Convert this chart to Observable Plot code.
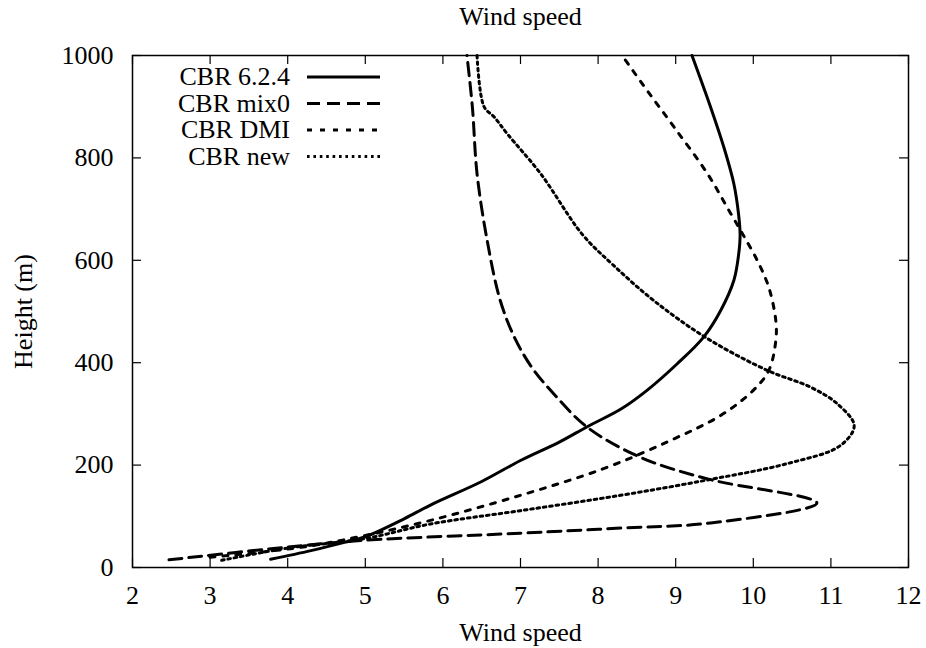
<!DOCTYPE html>
<html>
<head>
<meta charset="utf-8">
<script src="https://cdn.jsdelivr.net/npm/d3@7"></script>
<script src="https://cdn.jsdelivr.net/npm/@observablehq/plot@0.6"></script>
<style>
  html, body { margin: 0; padding: 0; background: #fff; }
  #chart { position: relative; width: 926px; height: 648px; }
</style>
</head>
<body>
<div id="chart"></div>
<script>
// ---- Data ----
const titleText = "Wind speed";
const xLabel = "Wind speed";
const yLabel = "Height (m)";
const xTicks = [2, 3, 4, 5, 6, 7, 8, 9, 10, 11, 12];
const yTicks = [0, 200, 400, 600, 800, 1000];
const seriesNames = ["CBR 6.2.4", "CBR mix0", "CBR DMI", "CBR new"];

const speed624 = [3.78, 4.3, 4.73, 5.0, 5.5, 5.84, 6.5, 7.0, 7.5, 7.86, 8.3, 8.63, 9.02, 9.36, 9.58, 9.75, 9.81, 9.83, 9.81, 9.75, 9.62, 9.45, 9.21];
const height624 = [16, 33, 49, 60, 95, 122, 168, 209, 245, 275, 310, 346, 398, 450, 502, 561, 610, 650, 690, 749, 821, 899, 1000];

const speedMix0 = [2.47, 4.0, 4.98, 7.0, 8.29, 9.45, 10.82, 9.41, 8.55, 7.86, 7.43, 7.15, 6.93, 6.74, 6.57, 6.44, 6.38, 6.31];
const heightMix0 = [15, 40, 53, 67, 77, 87, 126, 173, 215, 274, 339, 390, 447, 521, 639, 769, 899, 1000];

const speedDMI = [3.0, 4.2, 4.98, 5.84, 7.0, 8.07, 8.93, 9.58, 10.0, 10.2, 10.29, 10.29, 10.2, 10.05, 9.86, 9.71, 9.41, 8.98, 8.63, 8.31];
const heightDMI = [20, 40, 62, 92, 141, 193, 248, 297, 346, 385, 443, 482, 547, 600, 652, 691, 769, 860, 932, 1000];

const speedNew = [3.15, 4.0, 4.98, 5.84, 7.0, 8.29, 9.41, 10.44, 11.12, 11.30, 11.08, 10.74, 10.18, 9.4, 8.72, 8.2, 7.8, 7.26, 6.83, 6.66, 6.53, 6.44];
const heightNew = [14, 38, 56, 85, 111, 141, 171, 203, 238, 277, 320, 352, 385, 448, 521, 590, 650, 769, 847, 880, 900, 1000];

// ---- Build table ----
const toRows = (sp, h) => sp.map((s, i) => ({speed: s, height: h[i]}));
const rows624 = toRows(speed624, height624);
const rowsMix0 = toRows(speedMix0, heightMix0);
const rowsDMI = toRows(speedDMI, heightDMI);
const rowsNew = toRows(speedNew, heightNew);

// ---- Styles ----
const W = 926, H = 648;
const mL = 132, mR = 18, mT = 55, mB = 81;
const frameW = W - mL - mR, frameH = H - mT - mB;
const tickLen = 9;
const lw = 3;
const fs = 26;
const dashes = [null, "13,7", "5,8", "2.6,3.8"];
const font = "'Liberation Serif', 'Times New Roman', Times, serif";

const lineStyle = (i) => ({
  x: "speed", y: "height",
  stroke: "black", strokeWidth: lw,
  strokeDasharray: dashes[i] || undefined,
  strokeLinejoin: "round", curve: "catmull-rom"
});

const chart = Plot.plot({
  width: W, height: H,
  marginLeft: mL, marginRight: mR, marginTop: mT, marginBottom: mB,
  style: {fontFamily: font, fontSize: fs + "px", color: "black", background: "white", overflow: "visible"},
  x: {domain: [2, 12]},
  y: {domain: [0, 1000]},
  marks: [
    Plot.axisX({ticks: xTicks, anchor: "bottom", tickSize: 0, tickPadding: 18, label: null, tickFormat: d => String(d)}),
    Plot.axisY({ticks: yTicks, anchor: "left", tickSize: 0, tickPadding: 19, label: null, tickFormat: d => String(d)}),
    // inward ticks on all four sides (mirrored)
    Plot.tickX(xTicks, {x: d => d, insetTop: frameH - tickLen, stroke: "black", strokeWidth: 1.2}),
    Plot.tickX(xTicks, {x: d => d, insetBottom: frameH - tickLen, stroke: "black", strokeWidth: 1.2}),
    Plot.tickY(yTicks, {y: d => d, insetRight: frameW - tickLen, stroke: "black", strokeWidth: 1.2}),
    Plot.tickY(yTicks, {y: d => d, insetLeft: frameW - tickLen, stroke: "black", strokeWidth: 1.2}),
    Plot.line(rows624, lineStyle(0)),
    Plot.line(rowsMix0, lineStyle(1)),
    Plot.line(rowsDMI, lineStyle(2)),
    Plot.line(rowsNew, lineStyle(3)),
    Plot.frame({stroke: "black", strokeWidth: 1.5}),
    Plot.text([titleText], {text: d => d, frameAnchor: "top", dy: -39, lineAnchor: "middle", textAnchor: "middle", fontSize: fs}),
    Plot.text([xLabel], {text: d => d, frameAnchor: "bottom", dy: 65, lineAnchor: "middle", textAnchor: "middle", fontSize: fs}),
    Plot.text([yLabel], {text: d => d, frameAnchor: "left", dx: -109, rotate: -90, lineAnchor: "middle", textAnchor: "middle", fontSize: fs})
  ]
});

document.getElementById("chart").appendChild(chart);

// ---- Legend (key, top-left inside the frame, gnuplot style) ----
const svg = d3.select(chart);
const key = svg.append("g").attr("class", "key");
const keyTextRight = 290, keySampleX1 = 307, keySampleX2 = 380, keyBase = 85, keyStep = 26.5;
seriesNames.forEach((name, i) => {
  const baseY = keyBase + i * keyStep;
  key.append("text")
    .attr("x", keyTextRight).attr("y", baseY)
    .attr("text-anchor", "end")
    .attr("font-family", font).attr("font-size", fs)
    .attr("fill", "black")
    .text(name);
  const ln = key.append("line")
    .attr("x1", keySampleX1).attr("x2", keySampleX2)
    .attr("y1", baseY - 8).attr("y2", baseY - 8)
    .attr("stroke", "black").attr("stroke-width", lw);
  if (dashes[i]) ln.attr("stroke-dasharray", dashes[i]);
});
</script>
</body>
</html>
